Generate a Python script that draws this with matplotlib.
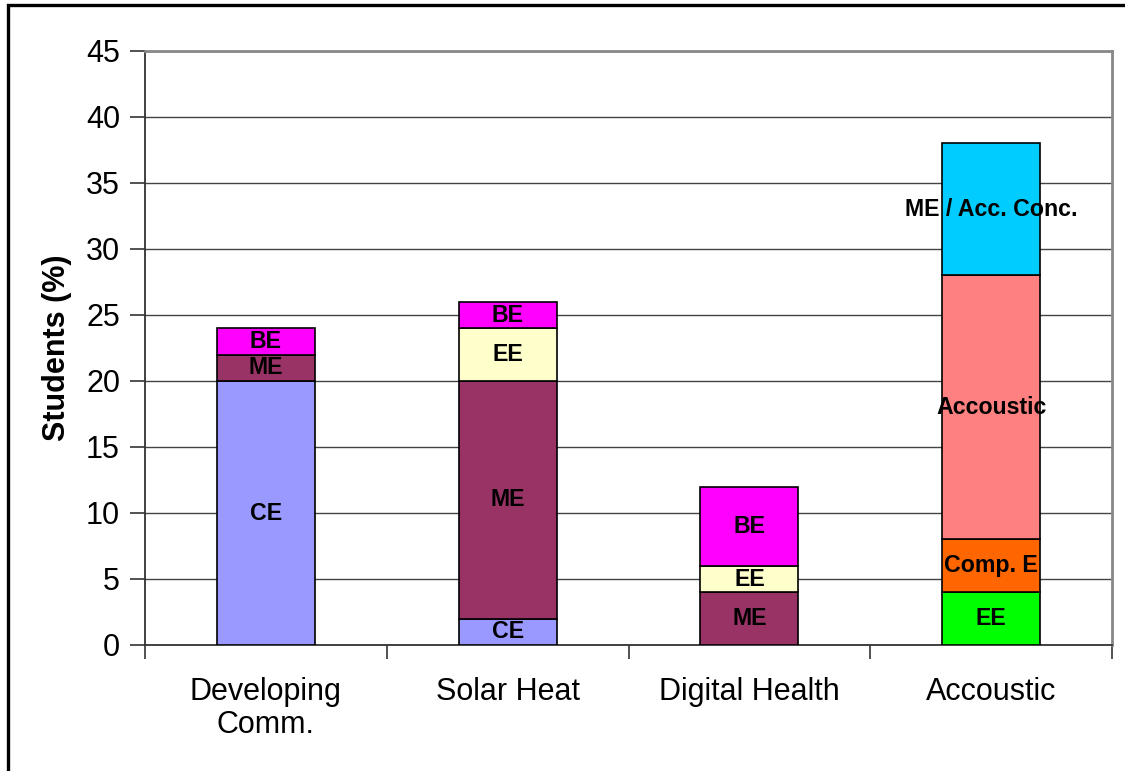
import matplotlib
matplotlib.use("Agg")
import matplotlib.pyplot as plt
from matplotlib.patches import Rectangle

plt.rcParams['font.family'] = ['Liberation Sans', 'DejaVu Sans']

categories = ["Developing\nComm.", "Solar Heat", "Digital Health", "Accoustic"]

# segments per category stacked bottom-up
seg_labels = [
    ["CE", "ME", "BE"],
    ["CE", "ME", "EE", "BE"],
    ["ME", "EE", "BE"],
    ["EE", "Comp. E", "Accoustic", "ME / Acc. Conc."],
]
seg_values = [
    [20, 2, 2],
    [2, 18, 4, 2],
    [4, 2, 6],
    [4, 4, 20, 10],
]
seg_colors = [
    ["#9999FF", "#993366", "#FF00FF"],
    ["#9999FF", "#993366", "#FFFFCC", "#FF00FF"],
    ["#993366", "#FFFFCC", "#FF00FF"],
    ["#00FF00", "#FF6600", "#FF8080", "#00CCFF"],
]
yticks = [0, 5, 10, 15, 20, 25, 30, 35, 40, 45]

fig = plt.figure(figsize=(11.25, 7.71), dpi=100)
ax = fig.add_axes([145/1125, 1-645/771, (1112-145)/1125, (645-51)/771])

# figure border
fig.patches.append(Rectangle((8/1125, -0.1), 1.2, 1-5/771+0.1, transform=fig.transFigure,
                             fill=False, edgecolor='black', linewidth=2.4, zorder=10))

width = 0.405
for i in range(len(categories)):
    bottom = 0
    for lab, val, col in zip(seg_labels[i], seg_values[i], seg_colors[i]):
        ax.bar(i, val, width=width, bottom=bottom, color=col, edgecolor='black',
               linewidth=1.2, zorder=3)
        ax.text(i, bottom + val/2, lab, ha='center', va='center', fontsize=16.7,
                fontweight='bold', zorder=4)
        bottom += val

ax.set_xlim(-0.5, len(categories) - 0.5)
ax.set_ylim(0, 45)
ax.set_yticks(yticks)
ax.set_yticklabels([str(t) for t in yticks], fontsize=22)
ax.yaxis.grid(True, color='#444444', linewidth=1.0, zorder=0)
ax.set_axisbelow(True)

ax.set_xticks(range(len(categories)))
ax.set_xticklabels(categories, fontsize=22, linespacing=1.12)
ax.tick_params(axis='x', length=0, pad=23)
# boundary ticks
ax.set_xticks([i - 0.5 for i in range(len(categories) + 1)], minor=True)
ax.tick_params(axis='x', which='minor', length=10, width=1.2, color='#333333', direction='out')
ax.tick_params(axis='y', length=11, width=1.2, color='#333333', direction='out', pad=7)

for s in ['left', 'bottom']:
    ax.spines[s].set_color('#333333')
    ax.spines[s].set_linewidth(1.3)
for s in ['top', 'right']:
    ax.spines[s].set_color('#888888')
    ax.spines[s].set_linewidth(2)

ax.set_ylabel("Students (%)", fontsize=22, fontweight='bold', labelpad=10)

fig.savefig("out.png", dpi=100)
